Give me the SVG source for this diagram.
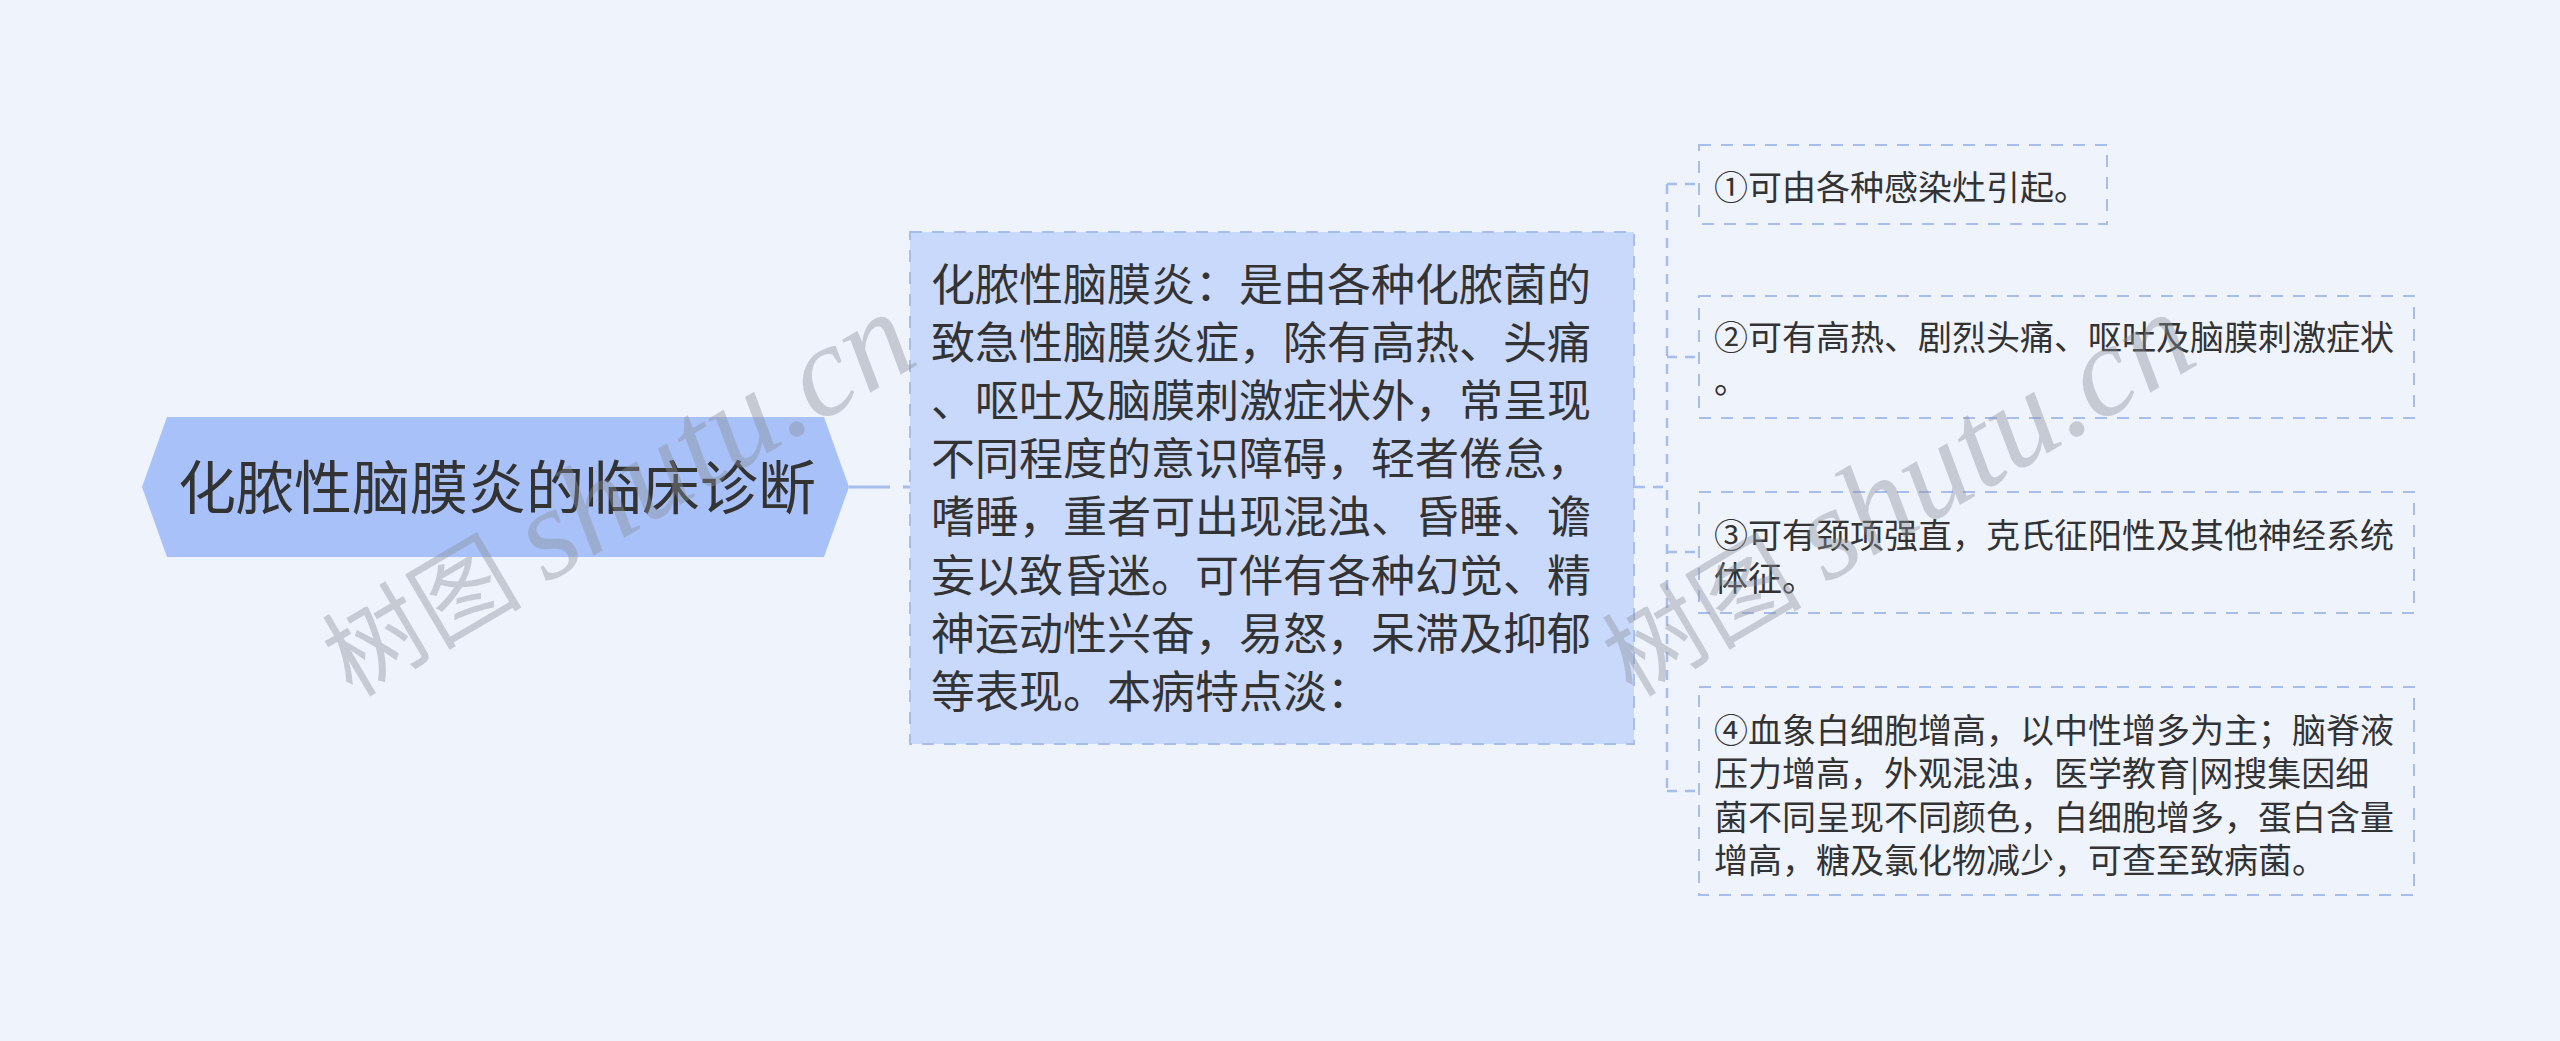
<svg xmlns="http://www.w3.org/2000/svg" width="2560" height="1041" viewBox="0 0 2560 1041">
<style>
.t{font-family:"Noto Sans CJK SC","Noto Sans",sans-serif;fill:#333333;}
.root{font-size:58px;}
.mid{font-size:44px;}
.leaf{font-size:34px;}
.box{stroke:#a7bdeb;stroke-width:2;stroke-dasharray:12 10;}
.conn{fill:none;stroke:#a7bdeb;stroke-width:2.5;stroke-dasharray:10 8;}
.wm{font-family:"Liberation Serif","Noto Sans CJK SC",serif;fill:#8a8f99;opacity:0.4;}
</style>
<rect x="0" y="0" width="2560" height="1041" fill="#eef3fc"/>
<g id="connectors">
<path d="M849 487 H910" fill="none" stroke="#a7bdeb" stroke-width="3" stroke-dasharray="41 13 8"/>
<path class="conn" d="M1635 487 H1667"/>
<path class="conn" d="M1667 184 V791"/>
<path class="conn" d="M1667 184 H1699"/>
<path class="conn" d="M1667 357 H1699"/>
<path class="conn" d="M1667 552 H1699"/>
<path class="conn" d="M1667 791 H1699"/>
</g>
<g id="root">
<polygon points="142,487 167,417 824,417 849,487 824,557 167,557" fill="#a8c1f8"/>
<text class="t root" x="497" y="509" text-anchor="middle">化脓性脑膜炎的临床诊断</text>
</g>
<g id="main">
<rect class="box" x="910" y="232" width="724" height="512" fill="#c9d9fb"/>
<text class="t mid" x="931" y="301">
<tspan x="931" y="301">化脓性脑膜炎：是由各种化脓菌的</tspan>
<tspan x="931" y="359">致急性脑膜炎症，除有高热、头痛</tspan>
<tspan x="931" y="417">、呕吐及脑膜刺激症状外，常呈现</tspan>
<tspan x="931" y="475">不同程度的意识障碍，轻者倦怠，</tspan>
<tspan x="931" y="533">嗜睡，重者可出现混浊、昏睡、谵</tspan>
<tspan x="931" y="592">妄以致昏迷。可伴有各种幻觉、精</tspan>
<tspan x="931" y="650">神运动性兴奋，易怒，呆滞及抑郁</tspan>
<tspan x="931" y="708">等表现。本病特点淡：</tspan>
</text>
</g>
<g id="leaf1">
<rect class="box" x="1699" y="145" width="408" height="79" fill="#eff3fc"/>
<text class="t leaf" x="1714" y="200">①可由各种感染灶引起。</text>
</g>
<g id="leaf2">
<rect class="box" x="1699" y="296" width="715" height="122" fill="#eff3fc"/>
<text class="t leaf"><tspan x="1714" y="350">②可有高热、剧烈头痛、呕吐及脑膜刺激症状</tspan><tspan x="1714" y="393">。</tspan></text>
</g>
<g id="leaf3">
<rect class="box" x="1699" y="492" width="715" height="121" fill="#eff3fc"/>
<text class="t leaf"><tspan x="1714" y="548">③可有颈项强直，克氏征阳性及其他神经系统</tspan><tspan x="1714" y="591">体征。</tspan></text>
</g>
<g id="leaf4">
<rect class="box" x="1699" y="687" width="715" height="208" fill="#eff3fc"/>
<text class="t leaf"><tspan x="1714" y="743">④血象白细胞增高，以中性增多为主；脑脊液</tspan><tspan x="1714" y="786">压力增高，外观混浊，医学教育|网搜集因细</tspan><tspan x="1714" y="830">菌不同呈现不同颜色，白细胞增多，蛋白含量</tspan><tspan x="1714" y="873">增高，糖及氯化物减少，可查至致病菌。</tspan></text>
</g>
<g id="watermarks">
<text class="wm" transform="translate(352,698) rotate(-30.5)"><tspan font-size="100">树图</tspan><tspan font-size="130" font-style="italic" dx="25">shutu.cn</tspan></text>
<text class="wm" transform="translate(1632,698) rotate(-30.5)"><tspan font-size="100">树图</tspan><tspan font-size="130" font-style="italic" dx="25">shutu.cn</tspan></text>
</g>
</svg>
